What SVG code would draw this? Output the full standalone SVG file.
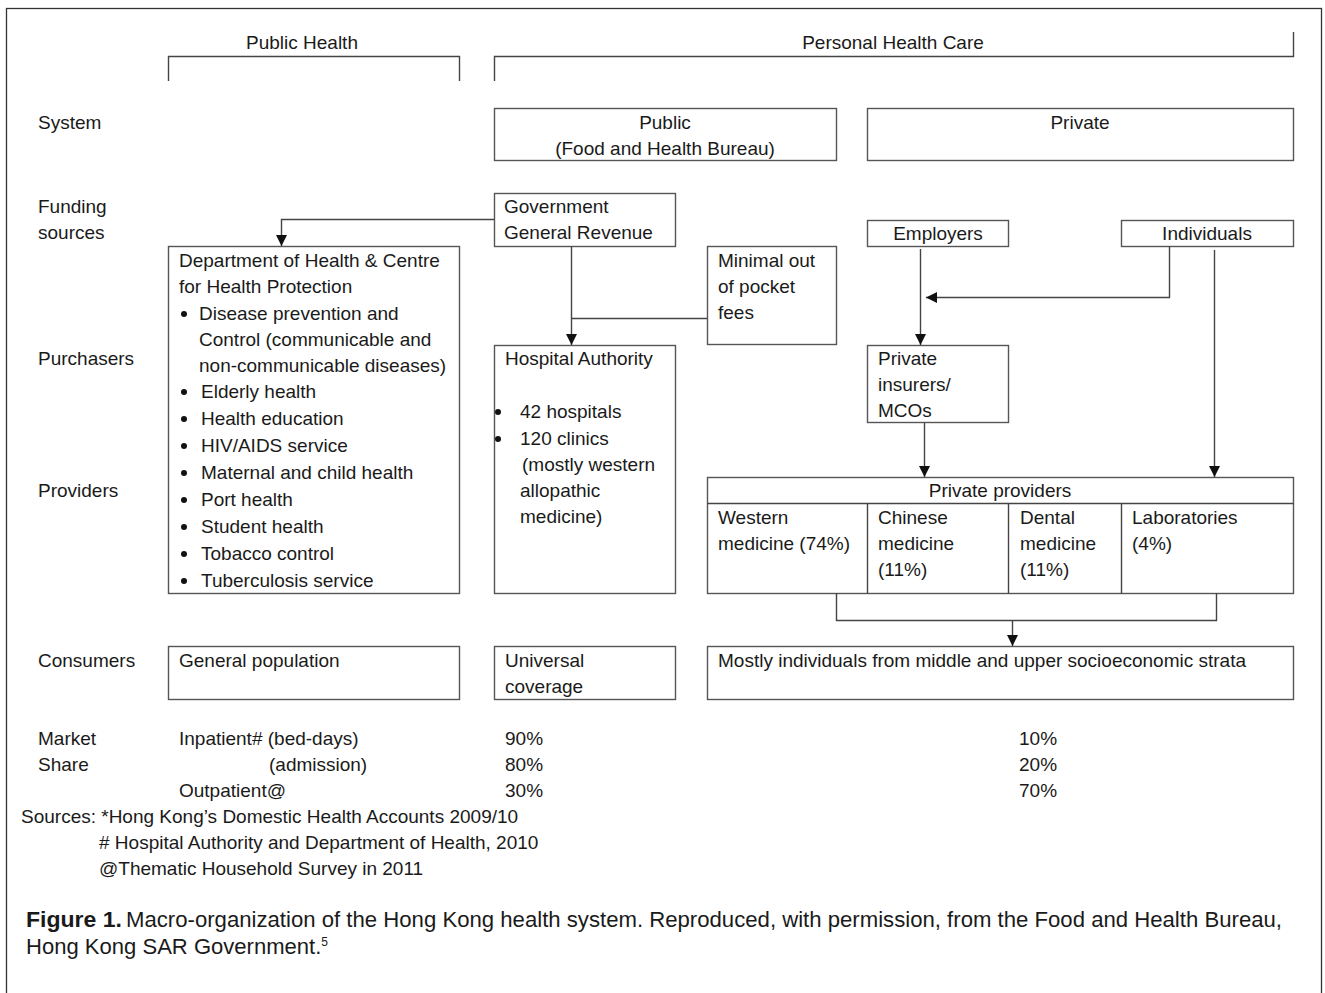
<svg xmlns="http://www.w3.org/2000/svg" width="1325" height="993" viewBox="0 0 1325 993">
<style>
text{font-family:"Liberation Sans",Arial,sans-serif;font-size:19px;fill:#1a1a1a}
.box{fill:#fff;stroke:#555;stroke-width:1.4}
.ln{fill:none;stroke:#444;stroke-width:1.4}
.c{text-anchor:middle}
.cap{font-size:22px}
</style>
<defs>
<marker id="ah" viewBox="0 0 10 10" refX="10" refY="5" markerWidth="11" markerHeight="11" markerUnits="userSpaceOnUse" orient="auto">
<path d="M0,0 L10,5 L0,10 Z" fill="#111"/>
</marker>
</defs>
<rect x="6.5" y="8.5" width="1315" height="1000" fill="#fff" stroke="#333" stroke-width="1.3"/>

<g id="headers">
<path class="ln" d="M168.5,81 V56.5 H459.5 V81"/>
<text x="302" y="49" class="c">Public Health</text>
<path class="ln" d="M494.5,81 V56.5 H1293.5 V32"/>
<text x="893" y="49" class="c">Personal Health Care</text>
</g>

<g id="row-labels">
<text x="38" y="129">System</text>
<text x="38" y="213">Funding</text>
<text x="38" y="239">sources</text>
<text x="38" y="365">Purchasers</text>
<text x="38" y="497">Providers</text>
<text x="38" y="667">Consumers</text>
<text x="38" y="745">Market</text>
<text x="38" y="771">Share</text>
</g>

<g id="public-system">
<rect class="box" x="494.5" y="108.5" width="342" height="52"/>
<text x="665" y="129" class="c">Public</text>
<text x="665" y="155" class="c">(Food and Health Bureau)</text>
</g>
<g id="private-system">
<rect class="box" x="867.5" y="108.5" width="426" height="52"/>
<text x="1080" y="129" class="c">Private</text>
</g>

<g id="gov-revenue">
<rect class="box" x="494.5" y="193.5" width="181" height="53"/>
<text x="504" y="213">Government</text>
<text x="504" y="239">General Revenue</text>
</g>

<g id="dept-health">
<rect class="box" x="168.5" y="246.5" width="291" height="347"/>
<text x="179" y="267">Department of Health &amp; Centre</text>
<text x="179" y="293">for Health Protection</text>
<g fill="#111">
<circle cx="184" cy="314" r="3"/><circle cx="184" cy="392" r="3"/><circle cx="184" cy="419" r="3"/><circle cx="184" cy="446" r="3"/><circle cx="184" cy="473" r="3"/><circle cx="184" cy="500" r="3"/><circle cx="184" cy="527" r="3"/><circle cx="184" cy="554" r="3"/><circle cx="184" cy="581" r="3"/>
</g>
<text x="199" y="320">Disease prevention and</text>
<text x="199" y="346">Control (communicable and</text>
<text x="199" y="372">non-communicable diseases)</text>
<text x="201" y="398">Elderly health</text>
<text x="201" y="425">Health education</text>
<text x="201" y="452">HIV/AIDS service</text>
<text x="201" y="479">Maternal and child health</text>
<text x="201" y="506">Port health</text>
<text x="201" y="533">Student health</text>
<text x="201" y="560">Tobacco control</text>
<text x="201" y="587">Tuberculosis service</text>
</g>

<g id="out-of-pocket">
<rect class="box" x="707.5" y="246.5" width="129" height="98"/>
<text x="718" y="267">Minimal out</text>
<text x="718" y="293">of pocket</text>
<text x="718" y="319">fees</text>
</g>

<g id="hospital-authority">
<rect class="box" x="494.5" y="345.5" width="181" height="248"/>
<text x="505" y="365">Hospital Authority</text>
<circle cx="498" cy="412" r="3" fill="#111"/>
<circle cx="498" cy="439" r="3" fill="#111"/>
<text x="520" y="418">42 hospitals</text>
<text x="520" y="445">120 clinics</text>
<text x="522" y="471">(mostly western</text>
<text x="520" y="497">allopathic</text>
<text x="520" y="523">medicine)</text>
</g>

<g id="employers">
<rect class="box" x="867.5" y="220.5" width="141" height="26"/>
<text x="938" y="240" class="c">Employers</text>
</g>
<g id="individuals">
<rect class="box" x="1121.5" y="220.5" width="172" height="26"/>
<text x="1207" y="240" class="c">Individuals</text>
</g>

<g id="private-insurers">
<rect class="box" x="867.5" y="345.5" width="141" height="77"/>
<text x="878" y="365">Private</text>
<text x="878" y="391">insurers/</text>
<text x="878" y="417">MCOs</text>
</g>

<g id="private-providers">
<rect class="box" x="707.5" y="477.5" width="586" height="116"/>
<path class="ln" d="M707.5,503.5 H1293.5 M867.5,503.5 V593.5 M1008.5,503.5 V593.5 M1121.5,503.5 V593.5"/>
<text x="1000" y="497" class="c">Private providers</text>
<text x="718" y="524">Western</text>
<text x="718" y="550">medicine (74%)</text>
<text x="878" y="524">Chinese</text>
<text x="878" y="550">medicine</text>
<text x="878" y="576">(11%)</text>
<text x="1020" y="524">Dental</text>
<text x="1020" y="550">medicine</text>
<text x="1020" y="576">(11%)</text>
<text x="1132" y="524">Laboratories</text>
<text x="1132" y="550">(4%)</text>
</g>

<g id="general-population">
<rect class="box" x="168.5" y="646.5" width="291" height="53"/>
<text x="179" y="667">General population</text>
</g>
<g id="universal-coverage">
<rect class="box" x="494.5" y="646.5" width="181" height="53"/>
<text x="505" y="667">Universal</text>
<text x="505" y="693">coverage</text>
</g>
<g id="private-consumers">
<rect class="box" x="707.5" y="646.5" width="586" height="53"/>
<text x="718" y="667">Mostly individuals from middle and upper socioeconomic strata</text>
</g>

<g id="connectors">
<path class="ln" d="M494,219.5 H281.5 V246" marker-end="url(#ah)"/>
<path class="ln" d="M571.5,246 V345" marker-end="url(#ah)"/>
<path class="ln" d="M707,318.5 H572"/>
<path class="ln" d="M1169.5,246 V297.5 H926" marker-end="url(#ah)"/>
<path class="ln" d="M920.5,249 V345" marker-end="url(#ah)"/>
<path class="ln" d="M924.5,423 V477" marker-end="url(#ah)"/>
<path class="ln" d="M1214.5,250 V477" marker-end="url(#ah)"/>
<path class="ln" d="M836.5,593 V620.5 H1216.5 V593"/>
<path class="ln" d="M1012.5,620 V646" marker-end="url(#ah)"/>
</g>

<g id="market-share">
<text x="179" y="745">Inpatient# (bed-days)</text>
<text x="269" y="771">(admission)</text>
<text x="179" y="797">Outpatient@</text>
<text x="505" y="745">90%</text>
<text x="505" y="771">80%</text>
<text x="505" y="797">30%</text>
<text x="1019" y="745">10%</text>
<text x="1019" y="771">20%</text>
<text x="1019" y="797">70%</text>
</g>

<g id="sources">
<text x="21" y="823">Sources: *Hong Kong’s Domestic Health Accounts 2009/10</text>
<text x="99" y="849"># Hospital Authority and Department of Health, 2010</text>
<text x="99" y="875">@Thematic Household Survey in 2011</text>
</g>

<g id="caption">
<text x="26" y="927" class="cap" font-weight="bold" textLength="96" lengthAdjust="spacingAndGlyphs">Figure 1.</text>
<text x="126" y="927" class="cap" textLength="1156" lengthAdjust="spacingAndGlyphs">Macro-organization of the Hong Kong health system. Reproduced, with permission, from the Food and Health Bureau,</text>
<text x="26" y="954" class="cap" textLength="302" lengthAdjust="spacingAndGlyphs">Hong Kong SAR Government.<tspan font-size="12" dy="-8">5</tspan></text>
</g>
</svg>
